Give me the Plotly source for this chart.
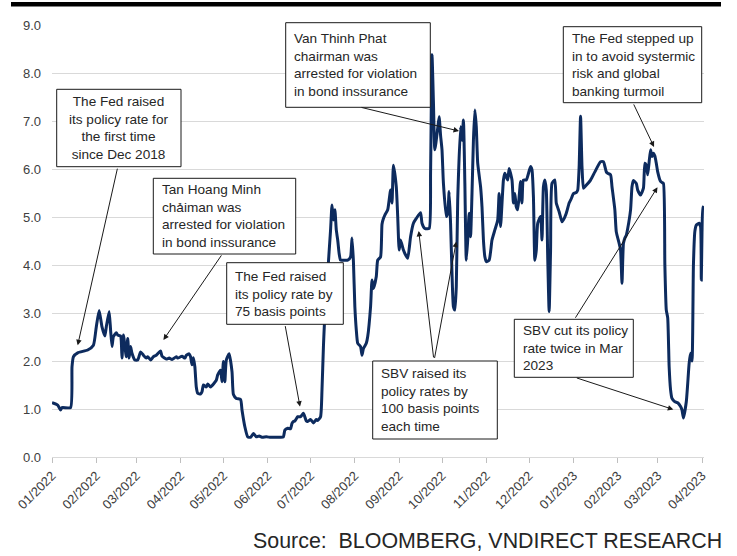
import plotly.graph_objects as go

# Vietnam overnight interbank rate (%), Jan 2022 - Apr 2023
dates = [
    "2022-01-01", "2022-01-05", "2022-01-07", "2022-01-08", "2022-01-14", "2022-01-15", "2022-01-16",
    "2022-01-19", "2022-01-26", "2022-01-30", "2022-02-01", "2022-02-03", "2022-02-05", "2022-02-07",
    "2022-02-08", "2022-02-10", "2022-02-11", "2022-02-12", "2022-02-13", "2022-02-15", "2022-02-16",
    "2022-02-18", "2022-02-19", "2022-02-20", "2022-02-22", "2022-02-23", "2022-02-24", "2022-02-25",
    "2022-02-26", "2022-02-28", "2022-03-02", "2022-03-04", "2022-03-06", "2022-03-08", "2022-03-09",
    "2022-03-11", "2022-03-13", "2022-03-15", "2022-03-18", "2022-03-19", "2022-03-22", "2022-03-24",
    "2022-03-26", "2022-03-29", "2022-03-30", "2022-04-02", "2022-04-04", "2022-04-05", "2022-04-07",
    "2022-04-08", "2022-04-09", "2022-04-10", "2022-04-11", "2022-04-12", "2022-04-13", "2022-04-15",
    "2022-04-16", "2022-04-17", "2022-04-19", "2022-04-20", "2022-04-22", "2022-04-26", "2022-04-27",
    "2022-04-29", "2022-04-30", "2022-05-01", "2022-05-02", "2022-05-03", "2022-05-05", "2022-05-07",
    "2022-05-08", "2022-05-10", "2022-05-13", "2022-05-14", "2022-05-16", "2022-05-18", "2022-05-20",
    "2022-05-22", "2022-05-24", "2022-05-26", "2022-05-28", "2022-05-31", "2022-06-03", "2022-06-06",
    "2022-06-10", "2022-06-12", "2022-06-13", "2022-06-15", "2022-06-17", "2022-06-18", "2022-06-19",
    "2022-06-20", "2022-06-22", "2022-06-24", "2022-06-26", "2022-06-28", "2022-06-29", "2022-07-01",
    "2022-07-03", "2022-07-05", "2022-07-06", "2022-07-08", "2022-07-09", "2022-07-10", "2022-07-11",
    "2022-07-12", "2022-07-13", "2022-07-15", "2022-07-16", "2022-07-17", "2022-07-18", "2022-07-19",
    "2022-07-20", "2022-07-21", "2022-07-22", "2022-07-24", "2022-07-27", "2022-07-29", "2022-07-30",
    "2022-07-31", "2022-08-01", "2022-08-02", "2022-08-03", "2022-08-05", "2022-08-06", "2022-08-07",
    "2022-08-09", "2022-08-10", "2022-08-12", "2022-08-13", "2022-08-14", "2022-08-16", "2022-08-17",
    "2022-08-19", "2022-08-20", "2022-08-21", "2022-08-22", "2022-08-24", "2022-08-26", "2022-08-27",
    "2022-08-28", "2022-08-30", "2022-08-31", "2022-09-01", "2022-09-02", "2022-09-04", "2022-09-05",
    "2022-09-07", "2022-09-09", "2022-09-11", "2022-09-13", "2022-09-16", "2022-09-17", "2022-09-19",
    "2022-09-22", "2022-09-23", "2022-09-24", "2022-09-25", "2022-09-26", "2022-09-28", "2022-09-29",
    "2022-09-30", "2022-10-01", "2022-10-02", "2022-10-04", "2022-10-05", "2022-10-06", "2022-10-07",
    "2022-10-08", "2022-10-09", "2022-10-10", "2022-10-11", "2022-10-12", "2022-10-14", "2022-10-15",
    "2022-10-16", "2022-10-17", "2022-10-18", "2022-10-19", "2022-10-20", "2022-10-21", "2022-10-22",
    "2022-10-23", "2022-10-24", "2022-10-25", "2022-10-26", "2022-10-28", "2022-10-29", "2022-10-30",
    "2022-10-31", "2022-11-01", "2022-11-03", "2022-11-05", "2022-11-07", "2022-11-09", "2022-11-10",
    "2022-11-11", "2022-11-13", "2022-11-14", "2022-11-16", "2022-11-17", "2022-11-19", "2022-11-20",
    "2022-11-21", "2022-11-22", "2022-11-23", "2022-11-25", "2022-11-26", "2022-11-27", "2022-11-29",
    "2022-12-02", "2022-12-03", "2022-12-04", "2022-12-05", "2022-12-06", "2022-12-07", "2022-12-09",
    "2022-12-10", "2022-12-11", "2022-12-12", "2022-12-13", "2022-12-14", "2022-12-15", "2022-12-16",
    "2022-12-17", "2022-12-19", "2022-12-20", "2022-12-22", "2022-12-24", "2022-12-25", "2022-12-27",
    "2022-12-29", "2022-12-30", "2022-12-31", "2023-01-01", "2023-01-03", "2023-01-04", "2023-01-05",
    "2023-01-06", "2023-01-07", "2023-01-08", "2023-01-09", "2023-01-13", "2023-01-16", "2023-01-20",
    "2023-01-22", "2023-01-24", "2023-01-25", "2023-01-27", "2023-01-28", "2023-01-30", "2023-01-31",
    "2023-02-02", "2023-02-03", "2023-02-04", "2023-02-05", "2023-02-06", "2023-02-07", "2023-02-08",
    "2023-02-10", "2023-02-11", "2023-02-12", "2023-02-14", "2023-02-15", "2023-02-17", "2023-02-19",
    "2023-02-20", "2023-02-21", "2023-02-22", "2023-02-23", "2023-02-24", "2023-02-25", "2023-02-26",
    "2023-02-27", "2023-02-28", "2023-03-01", "2023-03-03", "2023-03-04", "2023-03-05", "2023-03-06",
    "2023-03-07", "2023-03-08", "2023-03-09", "2023-03-10", "2023-03-11", "2023-03-13", "2023-03-15",
    "2023-03-17", "2023-03-18", "2023-03-19", "2023-03-21", "2023-03-22", "2023-03-23", "2023-03-24",
    "2023-03-25", "2023-03-26", "2023-03-27", "2023-03-28", "2023-03-30", "2023-03-31",
    "2023-03-31 12:00", "2023-04-01", "2023-04-01 12:00", "2023-04-02",
]

rates = [
    1.13, 1.08, 0.98, 1.03, 1.03, 1.88, 2.09,
    2.17, 2.23, 2.33, 2.71, 3.05, 2.71, 2.52,
    2.71, 3.03, 2.65, 2.30, 2.51, 2.59, 2.54,
    2.52, 2.06, 2.54, 2.09, 2.47, 2.06, 2.30,
    2.16, 2.02, 2.02, 2.19, 2.12, 2.06, 2.09,
    2.02, 2.09, 2.12, 2.21, 2.10, 2.04, 2.06,
    2.03, 2.09, 2.06, 2.10, 2.06, 2.12, 2.15,
    2.09, 1.92, 2.07, 1.88, 1.46, 1.33, 1.31,
    1.36, 1.50, 1.46, 1.52, 1.46, 1.60, 1.71,
    1.81, 1.57, 1.99, 1.57, 2.02, 2.15, 1.78,
    1.30, 1.22, 1.20, 0.98, 0.63, 0.42, 0.41,
    0.49, 0.42, 0.44, 0.41, 0.42, 0.41, 0.41,
    0.41, 0.42, 0.56, 0.60, 0.59, 0.70, 0.74,
    0.75, 0.84, 0.84, 0.91, 0.75, 0.74, 0.78,
    0.71, 0.78, 0.76, 0.84, 1.40, 2.30, 2.92,
    3.13, 3.83, 4.73, 5.25, 4.94, 5.15, 4.73,
    4.52, 4.24, 4.10, 4.10, 4.10, 4.17, 4.56,
    4.07, 3.13, 2.65, 2.37, 2.30, 2.12, 2.26,
    2.37, 2.51, 3.13, 3.69, 3.51, 3.76, 4.10,
    4.17, 4.85, 4.97, 5.04, 5.15, 5.56, 5.29,
    6.08, 5.63, 5.01, 4.31, 4.52, 4.31, 4.24,
    4.14, 4.59, 4.87, 4.97, 5.09, 4.87, 4.76,
    4.76, 5.91, 8.38, 7.40, 6.40, 6.85, 7.09,
    6.70, 6.40, 5.70, 5.01, 5.08, 5.53, 4.87,
    3.83, 3.13, 3.06, 3.55, 5.35, 6.88, 6.60,
    7.02, 5.70, 4.10, 4.52, 5.08, 4.59, 5.49,
    6.60, 7.23, 6.88, 6.12, 5.63, 5.21, 4.52,
    4.17, 4.07, 4.10, 4.52, 4.73, 4.94, 5.49,
    4.80, 5.77, 5.91, 5.77, 6.01, 5.77, 5.29,
    5.49, 5.21, 5.15, 5.74, 5.29, 5.77, 5.77,
    6.05, 5.98, 5.42, 4.10, 4.31, 4.87, 5.01,
    4.52, 5.63, 5.77, 5.56, 4.17, 3.03, 4.31,
    5.70, 5.77, 5.29, 5.11, 4.90, 4.94, 5.08,
    5.29, 5.35, 5.42, 5.49, 5.51, 5.56, 6.05,
    7.10, 6.05, 5.60, 5.63, 5.77, 5.94, 6.15,
    6.15, 5.94, 5.91, 5.88, 5.63, 5.15, 4.69,
    4.45, 4.31, 3.62, 4.45, 4.56, 4.62, 4.76,
    5.15, 5.63, 5.76, 5.70, 5.56, 5.46, 5.60,
    6.12, 6.08, 5.88, 6.15, 6.40, 6.26, 6.33,
    6.27, 6.12, 5.94, 5.74, 5.72, 5.70, 4.00,
    3.06, 2.90, 1.88, 1.40, 1.22, 1.15, 1.13,
    1.05, 0.98, 0.81, 1.15, 1.53, 1.95, 2.16,
    2.00, 4.00, 4.70, 4.83, 4.87, 4.80,
    3.69, 4.66, 5.21, 5.18,
]

month_ticks = [
    "2022-01-01", "2022-02-01", "2022-03-01", "2022-04-01", "2022-05-01", "2022-06-01",
    "2022-07-01", "2022-08-01", "2022-09-01", "2022-10-01", "2022-11-01", "2022-12-01",
    "2023-01-01", "2023-02-01", "2023-03-01", "2023-04-01",
]
month_labels = [
    "01/2022", "02/2022", "03/2022", "04/2022", "05/2022", "06/2022", "07/2022", "08/2022",
    "09/2022", "10/2022", "11/2022", "12/2022", "01/2023", "02/2023", "03/2023", "04/2023",
]

y_ticks = [0, 1, 2, 3, 4, 5, 6, 7, 8, 9]

FONT = "Liberation Sans, Arial, sans-serif"
LINE_COLOR = "#0d2b5e"
TEXT_COLOR = "#262626"

W, H = 737, 556
ML, MR, MT, MB = 52, 33, 25, 99
PW, PH = W - ML - MR, H - MT - MB


def px_x(px):
    """Horizontal page pixel -> paper fraction."""
    return (px - ML) / PW


def px_y(py):
    """Vertical page pixel (from top) -> paper fraction."""
    return (H - MB - py) / PH


fig = go.Figure()
fig.add_trace(go.Scatter(
    x=dates, y=rates, mode="lines",
    line=dict(color=LINE_COLOR, width=3, shape="spline", smoothing=0.5),
    hoverinfo="x+y",
))

# Call-out boxes: text, box (left, top, right, bottom) in page px, alignment
boxes = [
    ("The Fed raised<br>its policy rate for<br>the first time<br>since Dec 2018",
     (56.7, 89.3, 181.0, 166.7), "center"),
    ("Tan Hoang Minh<br>chảiman was<br>arrested for violation<br>in bond inssurance",
     (153.3, 178.3, 295.7, 254.0), "left"),
    ("The Fed raised<br>its policy rate by<br>75 basis points",
     (226.7, 262.7, 343.3, 324.3), "left"),
    ("Van Thinh Phat<br>chairman was<br>arrested for violation<br>in bond inssurance",
     (285.7, 22.7, 430.3, 107.3), "left"),
    ("SBV raised its<br>policy rates by<br>100 basis points<br>each time",
     (372.7, 361.0, 497.3, 439.0), "left"),
    ("The Fed stepped up<br>in to avoid systermic<br>risk and global<br>banking turmoil",
     (563.3, 26.7, 701.7, 102.7), "left"),
    ("SBV cut its policy<br>rate twice in Mar<br>2023",
     (514.3, 319.3, 633.3, 377.3), "left"),
]
PAD = 7.5
for text, (l, t, r, b), al in boxes:
    fig.add_shape(
        type="rect", xref="paper", yref="paper",
        x0=px_x(l), x1=px_x(r), y0=px_y(b), y1=px_y(t),
        fillcolor="white", line=dict(color="#1a1a1a", width=1), layer="above",
    )
    if al == "center":
        tx, xa = px_x((l + r) / 2), "center"
    else:
        tx, xa = px_x(l + PAD), "left"
    fig.add_annotation(
        text=text, xref="paper", yref="paper", x=tx, y=px_y((t + b) / 2),
        xanchor=xa, yanchor="middle", align=al, showarrow=False, borderpad=0,
        font=dict(family=FONT, size=13.6, color=TEXT_COLOR),
    )

# Pointer arrows: head at (date, rate), tail offset in px
arrows = [
    ("2022-01-19", 2.33, 40, -178),
    ("2022-03-20", 2.44, 59, -86),
    ("2022-06-23 14:00", 1.05, -15, -82),
    ("2022-10-12 22:00", 6.79, -99, -24),
    ("2022-09-14 17:00", 4.71, 15, 128),
    ("2022-10-11", 4.49, -22, 118),
    ("2023-02-26 10:00", 6.46, -21, -44),
    ("2023-02-28 20:00", 5.62, -83, 132),
    ("2023-03-11 22:00", 0.99, -98, -32),
]
for hx, hy, ax, ay in arrows:
    fig.add_annotation(
        x=hx, y=hy, xref="x", yref="y", ax=ax, ay=ay, text="",
        showarrow=True, arrowhead=2, arrowsize=1.1, arrowwidth=1,
        arrowcolor="#1a1a1a", standoff=0, startstandoff=0,
    )

# Source line
fig.add_annotation(
    text="Source:\u00a0 BLOOMBERG, VNDIRECT RESEARCH",
    xref="paper", yref="paper", x=px_x(724), y=px_y(541),
    xanchor="right", yanchor="middle", showarrow=False,
    font=dict(family=FONT, size=21.4, color=TEXT_COLOR),
)

# Black rule across the top
fig.add_shape(
    type="rect", xref="paper", yref="paper",
    x0=px_x(11), x1=px_x(721), y0=px_y(6.5), y1=px_y(2),
    fillcolor="black", line=dict(width=0), layer="above",
)

fig.update_xaxes(
    type="date",
    range=["2022-01-01", "2023-04-02 09:36"],
    tickvals=month_ticks, ticktext=month_labels, tickangle=-45,
    ticks="outside", ticklen=5, tickcolor="#bfbfbf", tickwidth=1,
    showline=True, linecolor="#d9d9d9", linewidth=1,
    showgrid=False, zeroline=False,
    tickfont=dict(family=FONT, size=13, color="#404040"),
)
fig.update_yaxes(
    range=[0, 9], tickvals=y_ticks, tickformat=".1f",
    showgrid=True, gridcolor="#d9d9d9", gridwidth=1,
    zeroline=False, showline=False, ticks="",
    ticklabelstandoff=10,
    tickfont=dict(family=FONT, size=13, color="#404040"),
)
fig.update_layout(
    width=W, height=H,
    margin=dict(l=ML, r=MR, t=MT, b=MB),
    plot_bgcolor="white", paper_bgcolor="white",
    showlegend=False,
    font=dict(family=FONT),
)

fig.write_html("out.html")
